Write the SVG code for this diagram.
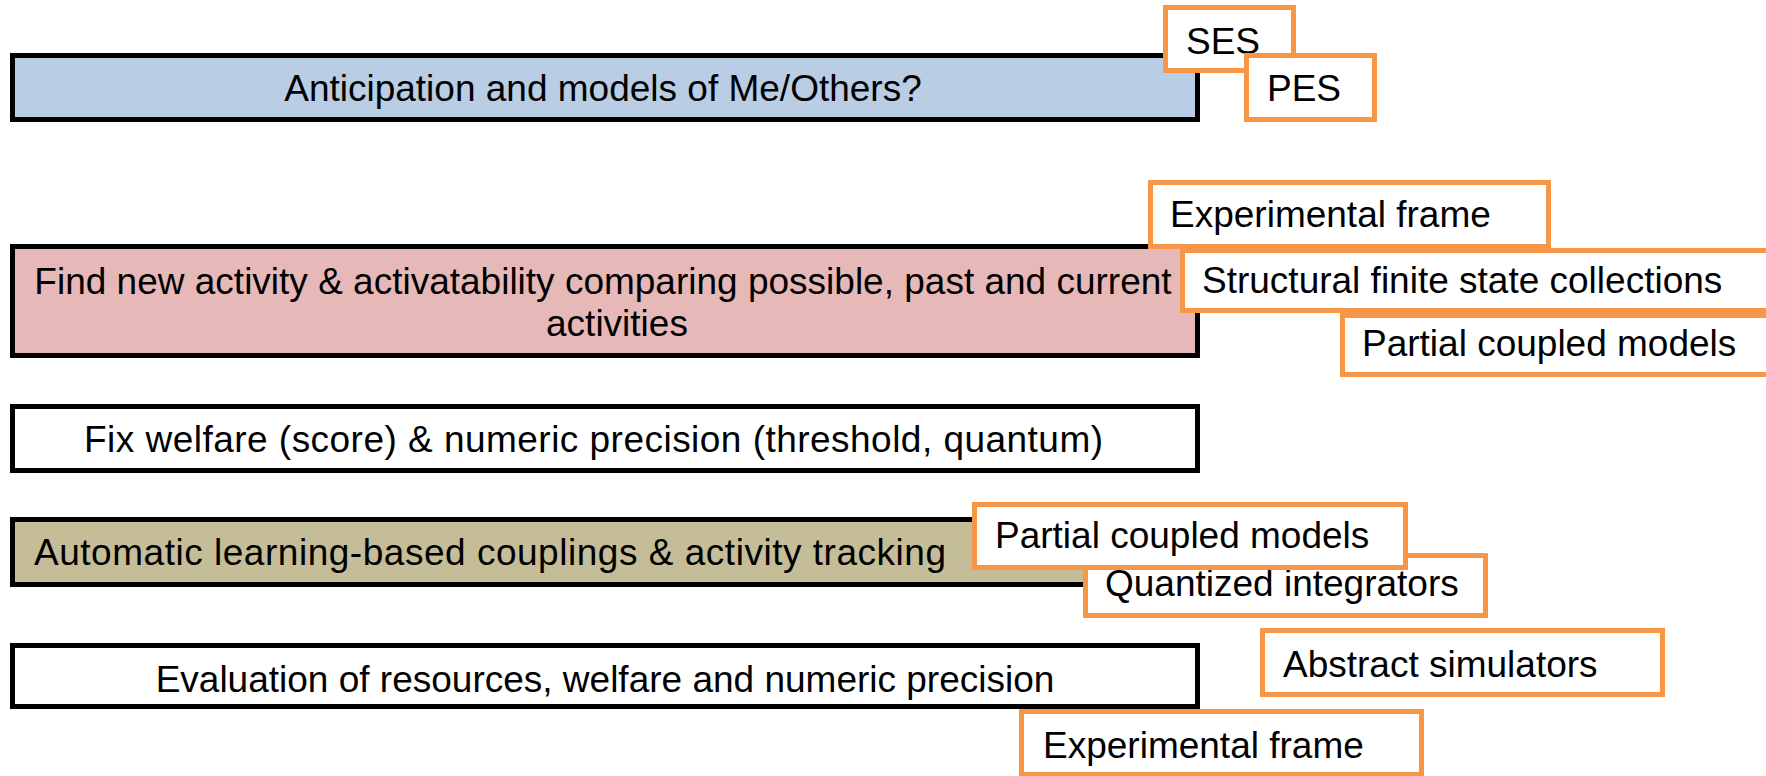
<svg xmlns="http://www.w3.org/2000/svg" width="1766" height="776" viewBox="0 0 1766 776">
  <style>
    .layer { stroke: #000; stroke-width: 5; }
    .tag { fill: #fff; stroke: #F79646; stroke-width: 5; }
    text { font-family: "Liberation Sans", Arial, sans-serif; font-size: 37px; fill: #000; }
    .mid { text-anchor: middle; }
  </style>
  <rect width="1766" height="776" fill="#fff"/>

  <!-- layered activities -->
  <g id="layer-anticipation">
    <rect class="layer" x="12.5" y="55.5" width="1185" height="64" fill="#B9CDE5"/>
    <text class="mid" x="603" y="101">Anticipation and models of Me/Others?</text>
  </g>
  <g id="layer-find">
    <rect class="layer" x="12.5" y="246.5" width="1185" height="109" fill="#E6B9B8"/>
    <text class="mid" x="603" y="294">Find new activity &amp; activatability comparing possible, past and current</text>
    <text class="mid" x="617" y="336">activities</text>
  </g>
  <g id="layer-fix">
    <rect class="layer" x="12.5" y="406.5" width="1185" height="64" fill="#fff"/>
    <text x="84" y="452" textLength="1019" lengthAdjust="spacing">Fix welfare (score) &amp; numeric precision (threshold, quantum)</text>
  </g>
  <g id="layer-learning">
    <rect class="layer" x="12.5" y="519.5" width="1185" height="65" fill="#C4BD97"/>
    <text x="34" y="565" textLength="912" lengthAdjust="spacing">Automatic learning-based couplings &amp; activity tracking</text>
  </g>
  <g id="layer-evaluation">
    <rect class="layer" x="12.5" y="645.5" width="1185" height="61" fill="#fff"/>
    <text class="mid" x="605" y="692">Evaluation of resources, welfare and numeric precision</text>
  </g>

  <!-- formalism tags -->
  <g id="tag-ses">
    <rect class="tag" x="1165.5" y="7.5" width="128" height="63"/>
    <text x="1186" y="54">SES</text>
  </g>
  <g id="tag-pes">
    <rect class="tag" x="1246.5" y="55.5" width="128" height="64"/>
    <text x="1267" y="101">PES</text>
  </g>
  <g id="tag-ef-top">
    <rect class="tag" x="1150.5" y="182.5" width="398" height="64"/>
    <text x="1170" y="227">Experimental frame</text>
  </g>
  <g id="tag-structural">
    <rect class="tag" x="1182.5" y="250.5" width="600" height="60"/>
    <text x="1202" y="293">Structural finite state collections</text>
  </g>
  <g id="tag-pcm-top">
    <rect class="tag" x="1342.5" y="315.5" width="440" height="59"/>
    <text x="1362" y="356">Partial coupled models</text>
  </g>
  <g id="tag-quantized">
    <rect class="tag" x="1085.5" y="555.5" width="400" height="60"/>
    <text x="1105" y="596">Quantized integrators</text>
  </g>
  <g id="tag-pcm-low">
    <rect class="tag" x="974.5" y="504.5" width="431" height="63"/>
    <text x="995" y="548">Partial coupled models</text>
  </g>
  <g id="tag-abstract">
    <rect class="tag" x="1262.5" y="630.5" width="400" height="64"/>
    <text x="1283" y="677">Abstract simulators</text>
  </g>
  <g id="tag-ef-bottom">
    <rect class="tag" x="1021.5" y="711.5" width="400" height="63"/>
    <text x="1043" y="758">Experimental frame</text>
  </g>

  <g id="connectors"/>
</svg>
